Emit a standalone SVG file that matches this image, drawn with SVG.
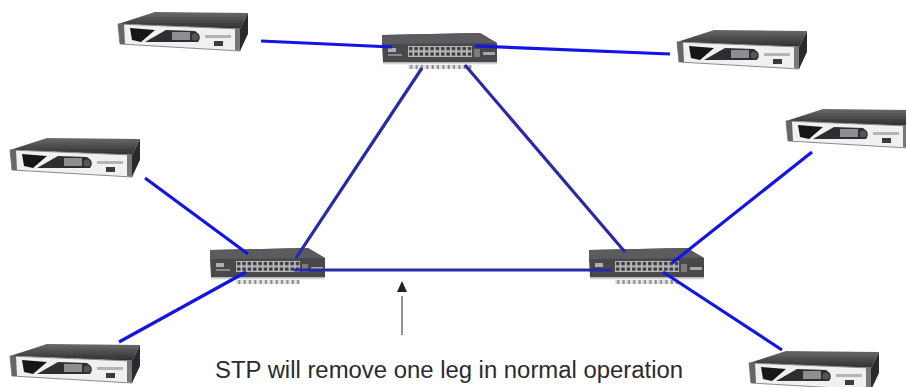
<svg xmlns="http://www.w3.org/2000/svg" width="906" height="387" viewBox="0 0 906 387">
<style>
.lb{stroke:#1414e6;stroke-width:3.2;fill:none}
.ld{stroke:#2a2aa6;stroke-width:3.2;fill:none}
.t{font-family:"Liberation Sans",Arial,sans-serif;font-size:23px;fill:#2a2a30}
</style>
<defs>
<linearGradient id="topg" x1="0" y1="0" x2="0" y2="1"><stop offset="0" stop-color="#6a6a6c"/><stop offset="1" stop-color="#2e2e30"/></linearGradient>
<linearGradient id="refl" x1="0" y1="0" x2="0" y2="1"><stop offset="0" stop-color="#aaa"/><stop offset="1" stop-color="#fff"/></linearGradient>
<filter id="soft" x="-5%" y="-10%" width="110%" height="120%"><feGaussianBlur stdDeviation="0.7"/></filter>
<g id="server" filter="url(#soft)">
<polygon points="0,12 37,0 130,1 122,17" fill="url(#topg)"/>
<polygon points="0,12 122,17 122,39 2,32" fill="#f0f0f0" stroke="#8a8a8a" stroke-width="1"/>
<polygon points="122,17 130,1 130,22 122,39" fill="#2c2c2e"/>
<polygon points="0,12 6,12 7,32 2,32" fill="#666"/>
<polygon points="117,17 122,17 122,39 117,38" fill="#777"/>
<polygon points="12,16 37,18 23,30 14,28" fill="#161618"/>
<path d="M48,18 L77,19 Q85,24 80,30 L27,30 Z" fill="#2e2e30"/>
<rect x="54" y="20" width="18" height="8" fill="#8e8e92"/>
<circle cx="77" cy="25" r="3.5" fill="#555"/>
<rect x="87" y="23" width="26" height="3" fill="#b4b4b4"/>
<rect x="96" y="29" width="9" height="5" fill="#3a3a3a"/>
</g>
<pattern id="ports" x="26" y="11" width="5.35" height="5.5" patternUnits="userSpaceOnUse">
<rect width="5.35" height="5.5" fill="#b8b8ba"/>
<rect x="1" y="1" width="3.4" height="3.2" fill="#38383c"/>
</pattern>
<pattern id="ticks" x="0" y="0" width="5.35" height="4" patternUnits="userSpaceOnUse">
<rect width="5.35" height="4" fill="#e4e4e4"/>
<rect x="1.500" width="2" height="4" fill="#8a8a8a"/>
</pattern>
<g id="switch" filter="url(#soft)">
<polygon points="0,0 98,-2 115,8 115,27 1,27 0,9" fill="#48484c"/>
<polygon points="0,0 98,-2 115,8 0,9" fill="#5c5c60"/>
<rect x="1" y="27" width="114" height="3" fill="url(#refl)"/>
<rect x="26" y="30" width="64" height="4" fill="url(#ticks)"/>
<rect x="26" y="11" width="64" height="11" fill="url(#ports)"/>
<rect x="6" y="13" width="8" height="4" fill="#b0b0b0"/>
<rect x="6" y="19" width="14" height="2" fill="#8a8a8a"/>
<rect x="101" y="17" width="12" height="3" fill="#a8a8a8"/>
<rect x="92" y="14" width="6" height="8" fill="#7c7c7c"/>
</g>
</defs>
<rect width="906" height="387" fill="#fff"/>
<g id="server-top-left"><use href="#server" x="118" y="12"/></g>
<g id="server-top-right"><use href="#server" x="677" y="30"/></g>
<g id="server-left-upper"><use href="#server" x="10" y="138"/></g>
<g id="server-left-lower"><use href="#server" x="10" y="344"/></g>
<g id="server-right-upper"><use href="#server" x="786" y="109"/></g>
<g id="server-right-lower"><use href="#server" x="749" y="351"/></g>
<g id="switch-top"><use href="#switch" x="382" y="35"/></g>
<g id="switch-left"><use href="#switch" x="210" y="250"/></g>
<g id="switch-right"><use href="#switch" x="589" y="250"/></g>
<g id="connectors">
<line class="lb" x1="261" y1="41" x2="392" y2="47"/>
<line class="lb" x1="475" y1="46" x2="670" y2="54"/>
<line class="ld" x1="422" y1="68" x2="296" y2="258"/>
<line class="ld" x1="465" y1="65" x2="625" y2="252"/>
<line class="ld" x1="294" y1="270" x2="612" y2="270"/>
<line class="lb" x1="145" y1="178" x2="248" y2="254"/>
<line class="lb" x1="119" y1="342" x2="246" y2="272"/>
<line class="lb" x1="812" y1="152" x2="672" y2="263"/>
<line class="lb" x1="663" y1="272" x2="782" y2="350"/>
</g>
<g id="annotation">
<line x1="402" y1="296" x2="402" y2="335" stroke="#777" stroke-width="1.600"/>
<polygon points="402,281 397,292 407,292" fill="#222"/>
<text class="t" x="215" y="378" textLength="468" lengthAdjust="spacingAndGlyphs">STP will remove one leg in normal operation</text>
</g>
</svg>
